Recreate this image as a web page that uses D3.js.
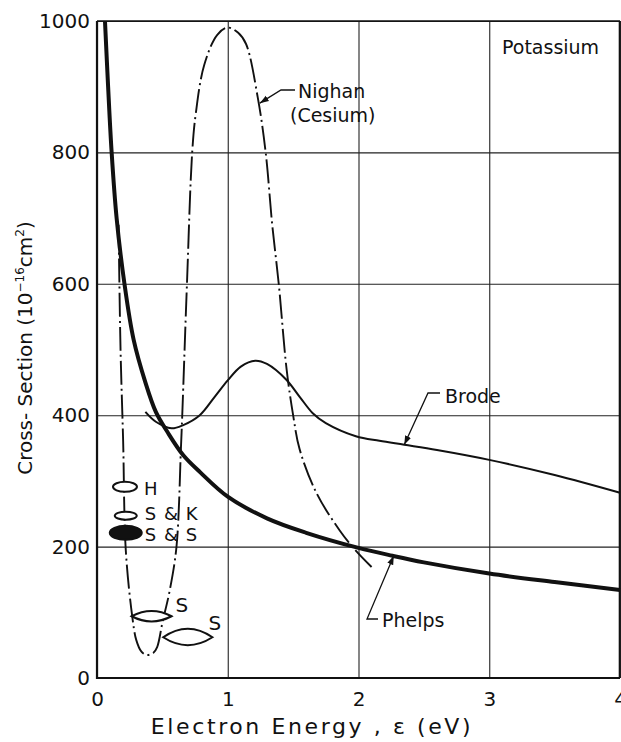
<!DOCTYPE html>
<html>
<head>
<meta charset="utf-8">
<script src="https://cdn.jsdelivr.net/npm/d3@7/dist/d3.min.js"></script>
<style>
  html, body { margin: 0; padding: 0; background: #fff; }
  svg { display: block; }
  text { font-family: "DejaVu Sans", sans-serif; fill: #111; }
</style>
</head>
<body>
<svg id="chart" width="621" height="742"></svg>
<script>
// Electron–atom momentum-transfer cross sections, potassium
const energyTicks = [0, 1, 2, 3, 4];
const sigmaTicks = [0, 200, 400, 600, 800, 1000];

// Phelps (heavy solid)
const phelpsE     = [0.061, 0.085, 0.112, 0.15, 0.21, 0.28, 0.37, 0.45, 0.54, 0.66, 0.79, 1.0, 1.3, 1.6, 2.0, 2.26, 2.5, 3.0, 3.5, 4.0];
const phelpsSigma = [1000, 900, 800, 700, 600, 515, 450, 405, 374, 339, 313, 276, 243, 221, 198, 186, 176, 159, 146, 134];

// Brode (light solid)
const brodeE     = [0.37, 0.45, 0.57, 0.66, 0.786, 0.9, 1.0, 1.1, 1.21, 1.3, 1.448, 1.55, 1.65, 1.75, 1.98, 2.16, 2.35, 2.6, 3.0, 3.5, 4.0];
const brodeSigma = [405, 390, 380, 385, 400, 428, 453, 474, 483, 478, 454, 428, 403, 388, 368, 361, 355, 347, 332, 309, 282];

// Nighan, cesium (dash-dot)
const nighanE     = [0.165, 0.18, 0.2, 0.22, 0.27, 0.30, 0.34, 0.38, 0.43, 0.46, 0.50, 0.557, 0.608, 0.642, 0.652, 0.688, 0.728, 0.756, 0.82, 0.92, 1.0, 1.08, 1.14, 1.23, 1.29, 1.34, 1.39, 1.45, 1.50, 1.55, 1.68, 1.855, 1.97, 2.10];
const nighanSigma = [690, 500, 360, 195, 93, 58, 40, 35, 38, 47, 84, 134, 200, 350, 400, 600, 800, 860, 933, 979, 990, 982, 965, 883, 800, 690, 600, 470, 400, 348, 281, 225, 196, 169];

// Single-energy measurements drawn as ellipses
const pointLabels = ["H", "S & K", "S & S"];
const pointE      = [0.214, 0.22, 0.22];
const pointSigma  = [291, 247, 221];
const pointFilled = [false, false, true];

// "S" measurements drawn as lens-shaped ranges
const lensLabels = ["S", "S"];
const lensE0     = [0.265, 0.506];
const lensE1     = [0.57, 0.883];
const lensSigma  = [94, 62];
const lensTop    = [102, 75];
const lensBottom = [86, 50];

const svg = d3.select("#chart");
const pL = 97, pR = 620, pT = 21, pB = 678;

const x = d3.scaleLinear().domain([0, 4]).range([pL, pR]);
const y = d3.scaleLinear().domain([0, 1000]).range([pB, pT]);

const defs = svg.append("defs");
defs.append("clipPath").attr("id", "plot")
  .append("rect").attr("x", pL).attr("y", pT - 2)
  .attr("width", pR - pL + 2).attr("height", pB - pT + 2);

defs.append("marker")
  .attr("id", "arrow").attr("viewBox", "0 0 10 10")
  .attr("refX", 10).attr("refY", 5)
  .attr("markerWidth", 9).attr("markerHeight", 9)
  .attr("markerUnits", "userSpaceOnUse")
  .attr("orient", "auto")
  .append("path").attr("d", "M0,1.5 L10,5 L0,8.5 Z").attr("fill", "#111");

// Grid + tick labels
const xAxis = svg.append("g")
  .attr("transform", `translate(0,${pB})`)
  .call(d3.axisBottom(x).tickValues(energyTicks).tickSize(-(pB - pT)).tickPadding(14).tickFormat(d3.format("d")));
const yAxis = svg.append("g")
  .attr("transform", `translate(${pL},0)`)
  .call(d3.axisLeft(y).tickValues(sigmaTicks).tickSize(-(pR - pL)).tickPadding(7).tickFormat(d3.format("d")));

[xAxis, yAxis].forEach(g => {
  g.select(".domain").remove();
  g.selectAll(".tick line").attr("stroke", "#222").attr("stroke-width", 1.1);
  g.selectAll(".tick text").style("font-size", "20px").attr("fill", "#111");
});

// Frame: heavier left and bottom axes
svg.append("line").attr("x1", pL).attr("x2", pL).attr("y1", pT).attr("y2", pB + 1)
  .attr("stroke", "#111").attr("stroke-width", 2.2);
svg.append("line").attr("x1", pL).attr("x2", pR).attr("y1", pB).attr("y2", pB)
  .attr("stroke", "#111").attr("stroke-width", 2.2);
svg.append("line").attr("x1", pR - 0.5).attr("x2", pR - 0.5).attr("y1", pT).attr("y2", pB)
  .attr("stroke", "#111").attr("stroke-width", 1.6);
svg.append("line").attr("x1", pL).attr("x2", pR).attr("y1", pT).attr("y2", pT)
  .attr("stroke", "#111").attr("stroke-width", 1.4);

const plot = svg.append("g").attr("clip-path", "url(#plot)");
const line = d3.line().x(d => x(d[0])).y(d => y(d[1])).curve(d3.curveCatmullRom.alpha(0.5));

plot.append("path")
  .datum(d3.zip(nighanE, nighanSigma))
  .attr("d", line).attr("fill", "none")
  .attr("stroke", "#111").attr("stroke-width", 1.9)
  .attr("stroke-dasharray", "24,4,2,4");

plot.append("path")
  .datum(d3.zip(brodeE, brodeSigma))
  .attr("d", line).attr("fill", "none")
  .attr("stroke", "#111").attr("stroke-width", 2);

plot.append("path")
  .datum(d3.zip(phelpsE, phelpsSigma))
  .attr("d", line).attr("fill", "none")
  .attr("stroke", "#111").attr("stroke-width", 4);

// Ellipse markers
const ellipseSize = [[12, 5], [11, 4], [16, 7]];
const labelShift = [8, 4, 8];
pointLabels.forEach((lab, i) => {
  svg.append("ellipse")
    .attr("cx", x(pointE[i])).attr("cy", y(pointSigma[i]))
    .attr("rx", ellipseSize[i][0]).attr("ry", ellipseSize[i][1])
    .attr("fill", pointFilled[i] ? "#111" : "#fff")
    .attr("stroke", "#111").attr("stroke-width", 2);
  svg.append("text")
    .attr("x", x(pointE[i]) + 19).attr("y", y(pointSigma[i]) + labelShift[i])
    .style("font-size", "18px").style("letter-spacing", "1px").text(lab);
});

// Lens-shaped ranges
lensLabels.forEach((lab, i) => {
  const x0 = x(lensE0[i]), x1 = x(lensE1[i]), ym = y(lensSigma[i]);
  const xm = (x0 + x1) / 2;
  const yt = 2 * y(lensTop[i]) - ym, yb = 2 * y(lensBottom[i]) - ym;
  const p = d3.path();
  p.moveTo(x0, ym);
  p.quadraticCurveTo(xm, yt, x1, ym);
  p.quadraticCurveTo(xm, yb, x0, ym);
  p.closePath();
  svg.append("path").attr("d", p.toString())
    .attr("fill", "#fff").attr("stroke", "#111").attr("stroke-width", 2);
  svg.append("text")
    .attr("x", x1 + 4 - (i === 1 ? 8 : 0)).attr("y", ym - 4 - (i === 1 ? 3 : 0))
    .style("font-size", "20px").text(lab);
});

// Curve annotations with leader arrows
function leader(tipE, tipS, elbowX, elbowY, endX) {
  svg.append("path")
    .attr("d", `M${endX},${elbowY} L${elbowX},${elbowY} L${x(tipE)},${y(tipS)}`)
    .attr("fill", "none").attr("stroke", "#111").attr("stroke-width", 1.3)
    .attr("marker-end", "url(#arrow)");
}
leader(1.245, 875, 281, 90, 295);
leader(2.35, 355, 428, 393, 440);
leader(2.27, 186, 367, 619, 378);

const lbl = (tx, ty, s) => svg.append("text").attr("x", tx).attr("y", ty).style("font-size", "19px").text(s);
lbl(298, 98, "Nighan");
lbl(290, 122, "(Cesium)");
lbl(445, 403, "Brode");
lbl(382, 627, "Phelps");
lbl(502, 54, "Potassium");

// Axis titles
svg.append("text")
  .attr("x", 312).attr("y", 734)
  .attr("text-anchor", "middle")
  .style("font-size", "22px").style("letter-spacing", "2.6px")
  .text("Electron Energy , ε (eV)");

const yTitle = svg.append("text")
  .attr("transform", "translate(32,348) rotate(-90)")
  .attr("text-anchor", "middle")
  .style("font-size", "20px");
yTitle.append("tspan").text("Cross- Section (10");
yTitle.append("tspan").attr("dy", -8).style("font-size", "12px").text("−16");
yTitle.append("tspan").attr("dy", 8).text("cm");
yTitle.append("tspan").attr("dy", -8).style("font-size", "12px").text("2");
yTitle.append("tspan").attr("dy", 8).text(")");
</script>
</body>
</html>
